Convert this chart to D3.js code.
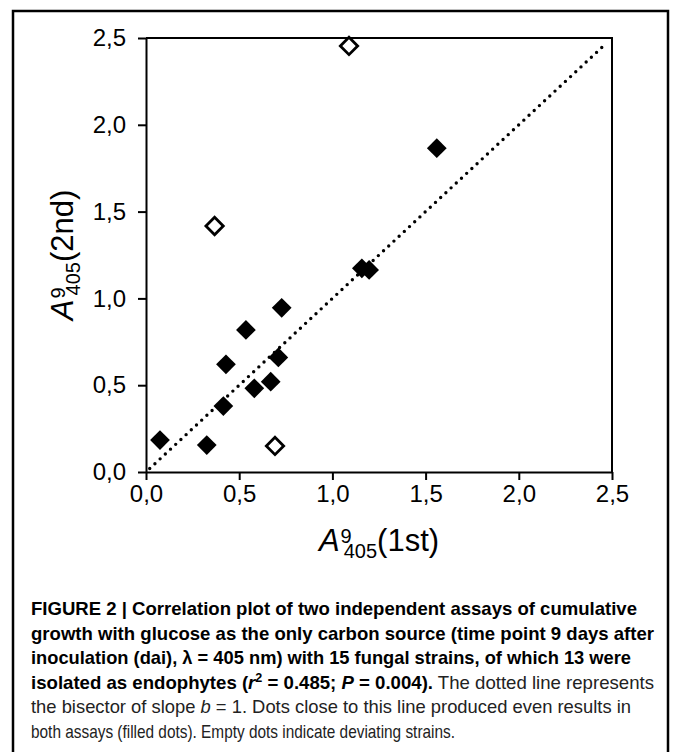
<!DOCTYPE html>
<html>
<head>
<meta charset="utf-8">
<script src="https://cdn.jsdelivr.net/npm/d3@7"></script>
<style>
  html, body { margin: 0; padding: 0; background: #fff; }
  svg { display: block; }
  text { font-family: "Liberation Sans", Arial, sans-serif; fill: #000; }
</style>
</head>
<body>
<svg id="chart" width="673" height="752"></svg>
<script>
// ---- data ----
const filledX = [0.075, 0.326, 0.415, 0.429, 0.536, 0.581, 0.669, 0.710, 0.728, 1.158, 1.197, 1.560];
const filledY = [0.184, 0.155, 0.380, 0.620, 0.818, 0.482, 0.520, 0.660, 0.946, 1.173, 1.164, 1.865];
const emptyX = [0.368, 0.692, 1.089];
const emptyY = [1.417, 0.150, 2.454];
const tickValues = [0, 0.5, 1.0, 1.5, 2.0, 2.5];
const tickLabels = ["0,0", "0,5", "1,0", "1,5", "2,0", "2,5"];
const bisector = [0.02, 2.47];

(function () {
const svg = d3.select("#chart");
svg.append("rect").attr("width", 673).attr("height", 752).attr("fill", "#fff");

// outer frame
svg.append("path")
  .attr("d", "M13,770 V11 H668 V770")
  .attr("fill", "none").attr("stroke", "#000").attr("stroke-width", 2.5);

const pl = 146, pr = 612, pt = 38, pb = 472;
const x = d3.scaleLinear().domain([0, 2.5]).range([pl, pr]);
const y = d3.scaleLinear().domain([0, 2.5]).range([pb, pt]);

const fmt = d => tickLabels[tickValues.indexOf(d)];

// box top/right
svg.append("path")
  .attr("d", `M${x(0)},${y(2.5)} H${x(2.5)} V${y(0)}`)
  .attr("fill", "none").attr("stroke", "#000").attr("stroke-width", 2);

const gx = svg.append("g").attr("transform", `translate(0,${pb})`)
  .call(d3.axisBottom(x).tickValues(tickValues).tickFormat(fmt).tickSize(8).tickSizeOuter(0).tickPadding(5));
const gy = svg.append("g").attr("transform", `translate(${pl},0)`)
  .call(d3.axisLeft(y).tickValues(tickValues).tickFormat(fmt).tickSize(8).tickSizeOuter(0).tickPadding(12));
[gx, gy].forEach(g => {
  g.select(".domain").attr("stroke-width", 2);
  g.selectAll(".tick line").attr("stroke-width", 2);
  g.selectAll(".tick text").attr("font-size", 24).attr("font-family", "Liberation Sans, Arial, sans-serif");
});

// bisector dotted line
svg.append("line")
  .attr("x1", x(bisector[0])).attr("y1", y(bisector[0]))
  .attr("x2", x(bisector[1])).attr("y2", y(bisector[1]))
  .attr("stroke", "#000").attr("stroke-width", 3.4)
  .attr("stroke-linecap", "round").attr("stroke-dasharray", "0 7.1");

// points
const filled = filledX.map((v, i) => [v, filledY[i]]);
const empty = emptyX.map((v, i) => [v, emptyY[i]]);
const sq = d3.symbol().type(d3.symbolSquare);
svg.append("g").selectAll("path").data(filled).join("path")
  .attr("d", sq.size(195)())
  .attr("transform", d => `translate(${x(d[0])},${y(d[1])}) rotate(45)`)
  .attr("fill", "#000");
svg.append("g").selectAll("path").data(empty).join("path")
  .attr("d", sq.size(150)())
  .attr("transform", d => `translate(${x(d[0])},${y(d[1])}) rotate(45)`)
  .attr("fill", "#fff").attr("stroke", "#000").attr("stroke-width", 2.8);

// axis titles
function title(g, txt) {
  g.append("tspan").attr("font-style", "italic").text("A");
  g.append("tspan").attr("font-size", 20).attr("dy", -8).attr("dx", 1).text("9");
  g.append("tspan").attr("font-size", 20).attr("dy", 15).attr("dx", -8).text("405");
  g.append("tspan").attr("dy", -7).text(txt);
}
const xt = svg.append("text").attr("x", x(1.25)).attr("y", 551)
  .attr("text-anchor", "middle").attr("font-size", 31);
title(xt, "(1st)");
const yt = svg.append("text").attr("transform", `translate(73,${y(1.25)}) rotate(-90)`)
  .attr("text-anchor", "middle").attr("font-size", 31);
title(yt, "(2nd)");

// caption
const capX = 31;
const lines = [
  { w: 606, parts: [["FIGURE 2 | Correlation plot of two independent assays of cumulative", "b"]] },
  { w: 623, parts: [["growth with glucose as the only carbon source (time point 9 days after", "b"]] },
  { w: 600, parts: [["inoculation (dai), \u03bb = 405 nm) with 15 fungal strains, of which 13 were", "b"]] },
  { w: 623, parts: [["isolated as endophytes (", "b"], ["r", "bi"], ["2", "bs"], [" = 0.485; ", "b"], ["P", "bi"], [" = 0.004).", "b"], [" The dotted line represents", "r"]] },
  { w: 600, parts: [["the bisector of slope ", "r"], ["b", "ri"], [" = 1. Dots close to this line produced even results in", "r"]] },
  { w: 424, parts: [["both assays (filled dots). Empty dots indicate deviating strains.", "r"]] }
];
const base0 = 615, step = 24.5;
lines.forEach((ln, i) => {
  const t = svg.append("text").attr("x", capX).attr("y", base0 + i * step)
    .attr("font-size", 18.5).attr("textLength", ln.w).attr("lengthAdjust", "spacingAndGlyphs")
    .attr("fill", "#000");
  let raised = false;
  ln.parts.forEach(([s, st]) => {
    const sp = t.append("tspan").text(s)
      .attr("font-weight", st[0] === "b" ? "bold" : "normal")
      .attr("fill", st[0] === "b" ? "#000" : "#222");
    if (st.includes("i")) sp.attr("font-style", "italic");
    if (st.includes("s")) { sp.attr("font-size", 12.5).attr("dy", -7); raised = true; }
    else if (raised) { sp.attr("dy", 7); raised = false; }
  });
});
})();
</script>
</body>
</html>
